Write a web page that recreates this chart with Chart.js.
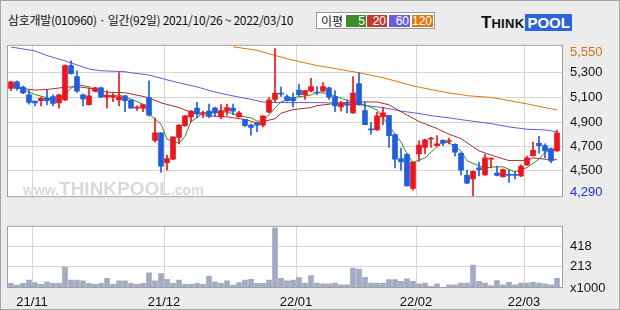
<!DOCTYPE html>
<html>
<head>
<meta charset="utf-8">
<script src="https://cdn.jsdelivr.net/npm/chart.js@4.4.1/dist/chart.umd.min.js"></script>
<style>
  html, body { margin: 0; padding: 0; background: #ececec; }
  #wrap { position: relative; width: 620px; height: 310px; background: #ececec; overflow: hidden;
          font-family: "Noto Sans CJK KR", "DejaVu Sans", sans-serif; color: #111; }
  #frame { position: absolute; left: 0; top: 0; width: 620px; height: 310px; box-sizing: border-box;
           border: 1px solid #a4a4a4; pointer-events: none; }
  canvas { position: absolute; left: 0; }
  #title { position: absolute; left: 8px; top: 12px; font-size: 12px; line-height: 15px; white-space: nowrap; letter-spacing: -0.3px; }
  #legend { position: absolute; left: 316px; top: 12px; width: 117px; height: 15px; background: #fff;
            border: 1px solid #9a9a9a; font-size: 12px; line-height: 15px; }
  #legend .lbl { position: absolute; left: 4px; top: 0; }
  #legend .c { position: absolute; top: 2px; height: 12px; line-height: 12px; color: #fff; text-align: right;
               font-family: "Liberation Sans", sans-serif; font-size: 12px; padding-right: 1px; box-sizing: border-box; }
  #logo { position: absolute; left: 481px; top: 13px; white-space: nowrap; font-family: "Liberation Sans", sans-serif; font-weight: bold; }
  #logo .t1 { font-size: 17px; }
  #logo .t2 { font-size: 13px; letter-spacing: 0.3px; }
  #logo .p { background: #2c63dc; color: #fff; font-size: 15px; padding: 0 2px; margin-left: 1px; }
</style>
</head>
<body>
<div id="wrap">
  <div id="title">삼호개발(010960) · 일간(92일) 2021/10/26 ~ 2022/03/10</div>
  <div id="legend">
    <span class="lbl">이평</span>
    <span class="c" style="left:29px;width:20px;background:#3f8c2a">5</span>
    <span class="c" style="left:50px;width:20px;background:#c4372c">20</span>
    <span class="c" style="left:72px;width:21px;background:#6a5ed8">60</span>
    <span class="c" style="left:95px;width:21px;background:#e0780e">120</span>
  </div>
  <div id="logo"><span class="t1">T</span><span class="t2">HINK</span><span class="p">POOL</span></div>
  <canvas id="pc" width="620" height="182" style="top:30px"></canvas>
  <canvas id="vc" width="620" height="99" style="top:211px"></canvas>
  <div id="frame"></div>
</div>
<script>
// daily candles 2021/10/26 ~ 2022/03/10 (92 trading days)
const opens  = [5210,5265,5220,5155,5100,5105,5125,5140,5085,5110,5405,5310,5155,5070,5185,5215,5135,5135,5110,5145,
                5110,5040,5040,5130,4765,4830,4575,4605,4790,4890,4965,5040,4995,5015,5040,4965,5015,5040,4965,4945,
                4895,4910,4895,5005,5115,5170,5140,5130,5195,5155,5185,5175,5185,5215,5140,5050,5075,5000,5250,5020,
                4860,4855,4965,4980,4815,4610,4645,4355,4650,4705,4775,4720,4765,4755,4730,4655,4465,4435,4530,4470,
                4605,4485,4455,4470,4470,4460,4555,4635,4740,4720,4695,4675];
const highs  = [5270,5275,5230,5195,5100,5135,5195,5155,5160,5410,5445,5360,5160,5210,5220,5220,5190,5165,5345,5150,
                5110,5060,5070,5275,4955,4830,4640,4795,4900,4980,5020,5090,5015,5075,5050,5070,5075,5075,5015,4945,
                4905,4920,4975,5130,5550,5220,5155,5170,5245,5190,5295,5225,5260,5220,5190,5100,5110,5310,5345,5095,
                4920,5005,5045,4980,4815,4700,4650,4580,4760,4775,4790,4805,4770,4785,4735,4660,4510,4505,4580,4645,
                4610,4545,4520,4510,4495,4555,4630,4750,4800,4735,4700,4850];
const lows   = [5190,5195,5165,5075,5060,5060,5070,5060,5040,5105,5330,5175,5060,5065,5180,5130,5040,5095,5060,5010,
                5040,5020,5010,4975,4750,4490,4510,4600,4735,4885,4925,4960,4960,4960,4975,4950,4980,4985,4965,4885,
                4810,4840,4880,5000,5090,5140,5100,5050,5140,5115,5180,5155,5180,5115,5010,5015,5000,4995,5065,4900,
                4815,4850,4900,4705,4530,4510,4375,4340,4585,4650,4705,4715,4720,4735,4630,4470,4395,4290,4460,4465,
                4530,4460,4450,4405,4435,4455,4550,4630,4655,4615,4575,4670];
const closes = [5265,5210,5170,5090,5085,5125,5105,5080,5155,5405,5335,5185,5120,5145,5215,5135,5150,5145,5140,5105,
                5040,5045,5070,4980,4830,4545,4610,4795,4895,4975,5015,4990,5000,4970,5000,5020,5045,5015,5000,4890,
                4875,4895,4975,5110,5170,5160,5105,5105,5155,5190,5225,5170,5225,5135,5060,5080,5065,5170,5070,4900,
                4855,4975,5000,4805,4605,4580,4375,4580,4725,4770,4780,4735,4740,4760,4665,4510,4400,4500,4515,4615,
                4610,4465,4515,4465,4465,4545,4615,4680,4720,4675,4590,4830];
// volume, x1000 shares
const volumes = [46,30,46,79,55,38,63,46,46,210,79,79,71,46,38,46,96,38,71,71,
                 46,38,46,153,71,145,87,46,79,38,38,46,38,120,63,46,71,30,55,79,
                 87,46,46,79,604,96,71,79,104,49,126,49,41,41,49,33,33,200,191,107,
                 49,49,49,85,85,66,93,66,41,49,16,41,5,33,33,49,49,230,66,49,
                 25,74,33,57,33,49,49,57,49,41,33,98];
// moving averages: [day index, price]
const ma5 = [[0,5236],[2,5200],[4,5157],[6,5129],[8,5105],[10,5212],[11,5241],[13,5224],[15,5157],[16,5148],
             [18,5153],[20,5117],[22,5074],[23,4990],[25,4905],[26,4775],[28,4740],[29,4800],[30,4925],[32,4997],
             [34,5002],[36,5009],[38,4974],[40,4957],[41,4930],[42,4930],[44,5040],[45,5093],[47,5129],[50,5153],
             [51,5176],[53,5164],[55,5125],[57,5093],[59,5069],[61,5025],[63,4890],[65,4750],[66,4650],[67,4575],
             [69,4616],[71,4711],[72,4752],[73,4745],[75,4675],[76,4590],[79,4527],[80,4537],[82,4539],[84,4496],
             [86,4532],[88,4604],[89,4663],[91,4687]];
const ma20 = [[0,5250],[1,5215],[4,5195],[6,5200],[9,5219],[11,5224],[14,5205],[16,5176],[19,5172],[22,5141],
              [23,5129],[25,5086],[28,5045],[30,5005],[33,4974],[36,4966],[39,4943],[41,4914],[44,4950],[45,4997],
              [47,5028],[50,5045],[51,5062],[55,5086],[58,5093],[61,5093],[63,5069],[65,5009],[68,4926],[71,4866],
              [73,4818],[75,4780],[78,4675],[81,4623],[83,4592],[86,4592],[87,4616],[89,4604],[91,4599]];
const ma60 = [[0,5563],[4,5530],[6,5490],[9,5445],[13,5375],[15,5360],[19,5352],[20,5343],[23,5324],[26,5282],
              [29,5245],[31,5222],[34,5178],[37,5145],[40,5115],[42,5093],[44,5088],[50,5088],[54,5086],[58,5069],
              [62,5045],[65,5015],[68,4995],[70,4976],[73,4957],[76,4935],[80,4908],[83,4880],[86,4860],[89,4854],
              [91,4838]];
const ma120 = [[37,5565],[41,5535],[44,5491],[46,5463],[48,5439],[51,5405],[55,5370],[58,5343],[62,5300],[65,5260],
               [67,5230],[70,5200],[73,5170],[75,5157],[76,5147],[80,5132],[83,5105],[86,5077],[89,5045],[91,5025]];
// month boundaries (between day indices) and labels
const monthPos = [3.5, 25.5, 47.5, 67.5, 85.5];
const monthLabels = ['21/11', '21/12', '22/01', '22/02', '22/03'];
// price grid lines and their (rounded) labels
const priceGrid = [4506, 4714, 4921, 5133, 5344];
const priceGridLabels = ['4,500', '4,700', '4,900', '5,100', '5,300'];
const volGrid = [0, 213, 418];
const volGridLabels = ['x1000', '213', '418'];

const UP = '#f0141c', DOWN = '#1f5fe2', GRID = '#d6d6d6', BORDER = '#a0a0a0';
const X_MIN = -0.667, X_MAX = 92;
const AXIS_W = 57;
const tickFont = { family: 'Liberation Sans', size: 13 };

const days = closes.map((_, i) => i);
const candleColors = days.map(i => closes[i] >= opens[i] ? UP : DOWN);
const toPts = arr => arr.map(([x, y]) => ({ x, y }));
const fmt = v => v.toLocaleString('en-US');

const plotBg = {
  id: 'plotBg',
  beforeDraw(chart) {
    const a = chart.chartArea, ctx = chart.ctx;
    ctx.save();
    ctx.fillStyle = '#fff';
    ctx.fillRect(a.left, a.top, a.right - a.left, a.bottom - a.top);
    ctx.restore();
  },
  afterDraw(chart) {
    const a = chart.chartArea, ctx = chart.ctx;
    ctx.save();
    ctx.strokeStyle = BORDER;
    ctx.lineWidth = 1;
    ctx.strokeRect(a.left + 0.5, a.top + 0.5, a.right - a.left - 1, a.bottom - a.top - 1);
    ctx.restore();
  }
};

// faint site mark in the lower left of the price panel
const watermark = {
  id: 'watermark',
  beforeDatasetsDraw(chart) {
    const a = chart.chartArea, ctx = chart.ctx;
    ctx.save();
    ctx.fillStyle = '#d9d9d9';
    ctx.textBaseline = 'alphabetic';
    let x = a.left + 16;
    const y = a.bottom - 2;
    ctx.font = 'bold 14px Liberation Sans';
    ctx.fillText('www.', x, y); x += ctx.measureText('www.').width;
    ctx.font = 'bold 19px Liberation Sans';
    ctx.fillText('THINKPOOL', x, y); x += ctx.measureText('THINKPOOL').width;
    ctx.font = 'bold 14px Liberation Sans';
    ctx.fillText('.com', x, y);
    ctx.restore();
  }
};

// max / min price labels pinned to the panel edges
const extremes = {
  id: 'extremes',
  afterDraw(chart) {
    const a = chart.chartArea, ctx = chart.ctx, ys = chart.scales.y;
    const hi = Math.max(...highs), lo = Math.min(...lows);
    ctx.save();
    ctx.font = '13px Liberation Sans';
    ctx.textBaseline = 'middle';
    ctx.textAlign = 'left';
    ctx.fillStyle = '#d8700c';
    ctx.fillText(fmt(hi), a.right + 7, Math.max(ys.getPixelForValue(hi), a.top + 8));
    ctx.fillStyle = '#1c2ee0';
    ctx.fillText(fmt(lo), a.right + 7, Math.min(ys.getPixelForValue(lo), a.bottom - 5));
    ctx.restore();
  }
};

const monthAxis = (showLabels, h) => ({
  type: 'linear', min: X_MIN, max: X_MAX, offset: false,
  afterBuildTicks: s => { s.ticks = monthPos.map(v => ({ value: v })); },
  grid: { color: GRID, drawTicks: false, offset: false },
  border: { display: false },
  ticks: { display: showLabels, autoSkip: false, maxRotation: 0, padding: 7, font: tickFont, color: '#111',
           callback: (v, i) => monthLabels[i] },
  afterFit: s => { s.height = h; }
});

new Chart(document.getElementById('pc'), {
  type: 'bar',
  data: {
    datasets: [
      { data: days.map(i => ({ x: i, y: [lows[i], highs[i]] })), backgroundColor: candleColors,
        barThickness: 1, grouped: false, order: 0 },
      { data: days.map(i => ({ x: i, y: [Math.min(opens[i], closes[i]), Math.max(opens[i], closes[i])] })),
        backgroundColor: candleColors, barThickness: 5, minBarLength: 1, grouped: false, order: 0 },
      { type: 'line', data: toPts(ma5), borderColor: '#3c8a1c', borderWidth: 1, pointRadius: 0, tension: 0, order: 1 },
      { type: 'line', data: toPts(ma20), borderColor: '#b42c2c', borderWidth: 1, pointRadius: 0, tension: 0, order: 1 },
      { type: 'line', data: toPts(ma60), borderColor: '#6a5ad8', borderWidth: 1, pointRadius: 0, tension: 0, order: 1 },
      { type: 'line', data: toPts(ma120), borderColor: '#e07810', borderWidth: 1, pointRadius: 0, tension: 0, order: 1 }
    ]
  },
  options: {
    responsive: false, animation: false, devicePixelRatio: 1,
    layout: { padding: { left: 7, right: 0, top: 0, bottom: 0 } },
    plugins: { legend: { display: false }, tooltip: { enabled: false } },
    scales: {
      x: monthAxis(false, 0),
      y: {
        position: 'right', min: 4279, max: 5582,
        afterBuildTicks: s => { s.ticks = priceGrid.map(v => ({ value: v })); },
        grid: { color: GRID, drawTicks: false },
        border: { display: false },
        ticks: { padding: 7, font: tickFont, color: '#111', callback: (v, i) => priceGridLabels[i] },
        afterFit: s => { s.width = AXIS_W; }
      }
    }
  },
  plugins: [plotBg, watermark, extremes]
});

new Chart(document.getElementById('vc'), {
  type: 'bar',
  data: {
    datasets: [
      { data: days.map(i => ({ x: i, y: volumes[i] })), backgroundColor: '#a3aac3', barThickness: 5 }
    ]
  },
  options: {
    responsive: false, animation: false, devicePixelRatio: 1,
    layout: { padding: { left: 7, right: 0, top: 0, bottom: 0 } },
    plugins: { legend: { display: false }, tooltip: { enabled: false } },
    scales: {
      x: monthAxis(true, 22),
      y: {
        position: 'right', min: 0, max: 625,
        afterBuildTicks: s => { s.ticks = volGrid.map(v => ({ value: v })); },
        grid: { color: ctx => ctx.index === 0 ? 'rgba(0,0,0,0)' : GRID, drawTicks: false },
        border: { display: false },
        ticks: { padding: 7, font: tickFont, color: '#111', callback: (v, i) => volGridLabels[i] },
        afterFit: s => { s.width = AXIS_W; }
      }
    }
  },
  plugins: [plotBg]
});
</script>
</body>
</html>
